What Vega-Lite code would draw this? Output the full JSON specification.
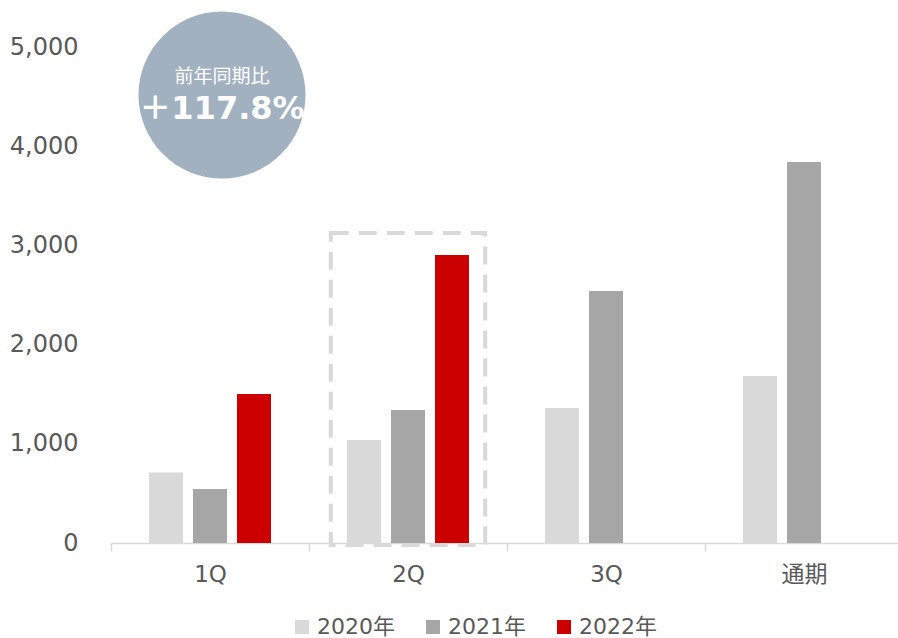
{
  "$schema": "https://vega.github.io/schema/vega-lite/v6.json",
  "width": 792,
  "height": 496,
  "autosize": {"type": "none"},
  "padding": {"left": 111, "top": 47, "right": 0, "bottom": 95},
  "background": "white",
  "config": {
    "view": {"stroke": null},
    "font": "DejaVu Sans, Noto Sans CJK JP",
    "axis": {"labelFont": "DejaVu Sans, Noto Sans CJK JP", "labelColor": "#595959"},
    "legend": {"labelFont": "DejaVu Sans, Noto Sans CJK JP", "labelColor": "#595959"}
  },
  "datasets": {
    "sales": [
      {"period": "1Q", "year": "2020年", "value": 710},
      {"period": "1Q", "year": "2021年", "value": 544},
      {"period": "1Q", "year": "2022年", "value": 1502},
      {"period": "2Q", "year": "2020年", "value": 1038},
      {"period": "2Q", "year": "2021年", "value": 1341},
      {"period": "2Q", "year": "2022年", "value": 2903},
      {"period": "3Q", "year": "2020年", "value": 1361},
      {"period": "3Q", "year": "2021年", "value": 2540},
      {"period": "通期", "year": "2020年", "value": 1683},
      {"period": "通期", "year": "2021年", "value": 3841}
    ],
    "box": [{"period": "2Q", "low": -20, "high": 3125}],
    "badge": [{"period": "1Q", "y": 4516, "label": "前年同期比", "ly": 4698, "pct": "＋117.8%", "py": 4375}]
  },
  "layer": [
    {
      "data": {"name": "sales"},
      "mark": {"type": "bar"},
      "encoding": {
        "x": {
          "field": "period", "type": "nominal",
          "sort": ["1Q", "2Q", "3Q", "通期"],
          "scale": {"domain": ["1Q", "2Q", "3Q", "通期"], "paddingInner": 0, "paddingOuter": 0},
          "axis": {
            "title": null, "labelAngle": 0, "domainColor": "#d9d9d9", "domainWidth": 1.5,
            "tickColor": "#d9d9d9", "tickWidth": 1.5, "tickSize": 8, "tickBand": "extent",
            "labelFontSize": 23, "labelPadding": 12
          }
        },
        "xOffset": {
          "field": "year", "type": "nominal",
          "scale": {"domain": ["2020年", "2021年", "2022年"], "paddingInner": 0.227, "paddingOuter": 0.864}
        },
        "y": {
          "field": "value", "type": "quantitative",
          "scale": {"domain": [0, 5000], "nice": false},
          "axis": {
            "title": null, "values": [0, 1000, 2000, 3000, 4000, 5000], "format": ",d",
            "domain": false, "ticks": false, "grid": false, "labelFontSize": 24, "labelPadding": 33
          }
        },
        "color": {
          "field": "year", "type": "nominal",
          "scale": {"domain": ["2020年", "2021年", "2022年"], "range": ["#d9d9d9", "#a6a6a6", "#cc0000"]},
          "legend": {
            "title": null, "orient": "none", "legendX": 180, "legendY": 569,
            "direction": "horizontal", "symbolType": "square",
            "symbolSize": 196, "symbolStrokeWidth": 0, "labelFontSize": 22, "labelOffset": 4,
            "columnPadding": 27
          }
        }
      }
    },
    {
      "data": {"name": "box"},
      "mark": {"type": "bar", "width": {"band": 0.78}, "fill": null, "fillOpacity": 0, "stroke": "#d9d9d9", "strokeWidth": 4, "strokeDash": [18, 10]},
      "encoding": {
        "x": {"field": "period", "type": "nominal"},
        "y": {"field": "low", "type": "quantitative"},
        "y2": {"field": "high"}
      }
    },
    {
      "data": {"name": "badge"},
      "mark": {"type": "point", "shape": "circle", "filled": true, "size": 27900, "color": "#a2b1c0", "opacity": 1, "xOffset": 12},
      "encoding": {
        "x": {"field": "period", "type": "nominal"},
        "y": {"field": "y", "type": "quantitative"}
      }
    },
    {
      "data": {"name": "badge"},
      "mark": {"type": "text", "color": "white", "fontSize": 19, "xOffset": 12, "baseline": "middle", "align": "center"},
      "encoding": {
        "x": {"field": "period", "type": "nominal"},
        "y": {"field": "ly", "type": "quantitative"},
        "text": {"field": "label"}
      }
    },
    {
      "data": {"name": "badge"},
      "mark": {"type": "text", "color": "white", "fontSize": 32, "fontWeight": "bold", "xOffset": 12, "baseline": "middle", "align": "center"},
      "encoding": {
        "x": {"field": "period", "type": "nominal"},
        "y": {"field": "py", "type": "quantitative"},
        "text": {"field": "pct"}
      }
    }
  ]
}
